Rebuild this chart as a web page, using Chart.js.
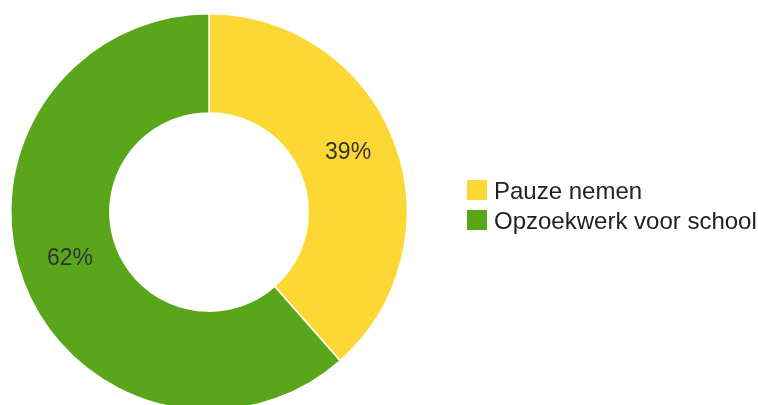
<!DOCTYPE html>
<html>
<head>
<meta charset="utf-8">
<script src="https://cdn.jsdelivr.net/npm/chart.js@4/dist/chart.umd.min.js"></script>
<style>
    html, body { margin: 0; padding: 0; background: #fff; overflow: hidden; }
    #wrap { position: relative; width: 758px; height: 405px; overflow: hidden; }
    #chartBox { position: absolute; left: 0; top: 0; width: 758px; height: 425px; }
    #legend { position: absolute; left: 467px; top: 180px; font-family: "Liberation Sans", Arial, sans-serif; font-size: 24px; color: #222; }
    .item { height: 30px; line-height: 22px; white-space: nowrap; }
    .swatch { display: inline-block; width: 20px; height: 20px; vertical-align: top; margin-right: 7px; }
</style>
</head>
<body>
<div id="wrap">
    <div id="chartBox"><canvas id="donutChart"></canvas></div>
    <div id="legend"></div>
</div>
<script>
const categories = ['Pauze nemen', 'Opzoekwerk voor school'];
const shares = [38.5, 61.5];
const colors = ['#FDD835', '#5AA61A'];

// percentage text inside each slice
const sliceLabels = {
    id: 'sliceLabels',
    afterDatasetsDraw(chart) {
        const c = chart.ctx;
        const meta = chart.getDatasetMeta(0);
        c.save();
        c.font = '23px "Liberation Sans", Arial, sans-serif';
        c.fillStyle = '#333';
        c.textAlign = 'center';
        c.textBaseline = 'alphabetic';
        meta.data.forEach((arc, i) => {
            const p = arc.getCenterPoint();
            c.fillText(Math.round(shares[i]) + '%', p.x, p.y);
        });
        c.restore();
    }
};

document.addEventListener("DOMContentLoaded", function () {
    const ctx = document.getElementById('donutChart').getContext('2d');
    new Chart(ctx, {
        type: 'doughnut',
        data: {
            labels: categories,
            datasets: [{
                data: shares,
                backgroundColor: colors,
                borderColor: '#fff',
                borderWidth: 1.5
            }]
        },
        options: {
            responsive: true,
            maintainAspectRatio: false,
            animation: false,
            cutout: '50%',
            layout: { padding: { top: 13, bottom: 14, left: 10, right: 350 } },
            plugins: {
                legend: { display: false },
                tooltip: { enabled: false }
            }
        },
        plugins: [sliceLabels]
    });

    const legend = document.getElementById('legend');
    categories.forEach((name, i) => {
        const row = document.createElement('div');
        row.className = 'item';
        row.innerHTML = `<span class="swatch" style="background:${colors[i]}"></span>${name}`;
        legend.appendChild(row);
    });
});
</script>
</body>
</html>
